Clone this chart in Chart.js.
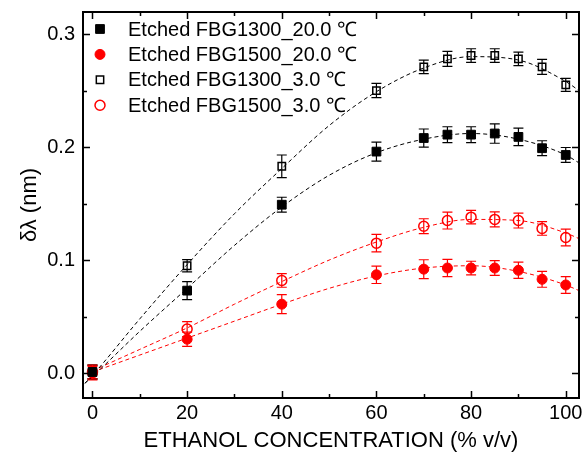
<!DOCTYPE html>
<html>
<head>
<meta charset="utf-8">
<script src="https://cdn.jsdelivr.net/npm/chart.js@4.4.0/dist/chart.umd.min.js"></script>
<style>
html, body { margin: 0; padding: 0; background: #fff; }
</style>
</head>
<body>
<canvas id="chart" width="582" height="465"></canvas>
<script>
// measured points
const concentration = [0, 20, 40, 60, 70, 75, 80, 85, 90, 95, 100];
const fbg1300_20 = [0.001, 0.073, 0.149, 0.196, 0.208, 0.211, 0.211, 0.212, 0.209, 0.199, 0.193];
const fbg1500_20 = [0.000, 0.030, 0.061, 0.087, 0.092, 0.093, 0.093, 0.093, 0.091, 0.083, 0.078];
const fbg1300_3 = [0.001, 0.095, 0.183, 0.250, 0.271, 0.278, 0.281, 0.281, 0.278, 0.271, 0.255];
const fbg1500_3 = [0.001, 0.039, 0.082, 0.115, 0.130, 0.135, 0.138, 0.136, 0.135, 0.128, 0.120];

// error bar half heights
const err1300_20 = [0.006, 0.008, 0.0066, 0.0084, 0.008, 0.007, 0.007, 0.0086, 0.0077, 0.0066, 0.0066];
const err1500_20 = [0.006, 0.0063, 0.0084, 0.0077, 0.0083, 0.0077, 0.006, 0.0066, 0.0072, 0.007, 0.0074];
const err1300_3 = [0.006, 0.0055, 0.010, 0.0063, 0.006, 0.0066, 0.006, 0.006, 0.006, 0.0066, 0.0058];
const err1500_3 = [0.006, 0.0066, 0.006, 0.0077, 0.0066, 0.0075, 0.006, 0.0066, 0.0066, 0.006, 0.0074];

// fitted curves
const fitXBlack = [-1.6, 0, 10, 20, 30, 40, 50, 60, 70, 80, 90, 100, 102.8];
const fit1300_20 = [-0.009, -0.003, 0.037, 0.075, 0.113, 0.147, 0.175, 0.195, 0.207, 0.212, 0.207, 0.193, 0.186];
const fit1300_3 = [-0.009, -0.002, 0.048, 0.096, 0.141, 0.181, 0.219, 0.249, 0.270, 0.280, 0.277, 0.258, 0.250];
const fitXRed = [0, 10, 20, 30, 40, 50, 60, 70, 80, 90, 100, 102.8];
const fit1500_20 = [0.001, 0.016, 0.031, 0.046, 0.061, 0.075, 0.086, 0.093, 0.095, 0.090, 0.078, 0.073];
const fit1500_3 = [0.002, 0.021, 0.040, 0.061, 0.081, 0.100, 0.116, 0.129, 0.136, 0.135, 0.124, 0.119];

const seriesNames = ["Etched FBG1300_20.0 \u2103", "Etched FBG1500_20.0 \u2103", "Etched FBG1300_3.0 \u2103", "Etched FBG1500_3.0 \u2103"];
const xTicks = [0, 20, 40, 60, 80, 100];
const xMinor = [10, 30, 50, 70, 90];
const yTicks = [0.0, 0.1, 0.2, 0.3];
const yMinor = [0.05, 0.15, 0.25];

const FONT = "'Liberation Sans', Arial, Helvetica, sans-serif";

function pts(xs, ys) {
    return xs.map((x, i) => ({ x: x, y: ys[i] }));
}

function markerSet(label, ys, errs, style, radius, color, filled) {
    return {
        label: label,
        data: pts(concentration, ys),
        errors: errs,
        showLine: false,
        pointStyle: style,
        pointRadius: radius,
        pointHoverRadius: radius,
        pointBackgroundColor: filled ? color : 'rgba(0,0,0,0)',
        pointBorderColor: color,
        pointBorderWidth: filled ? 1 : 1.5,
        borderColor: color,
        backgroundColor: color,
        order: 0
    };
}

function fitSet(xs, ys, color) {
    return {
        label: '',
        data: pts(xs, ys),
        showLine: true,
        borderColor: color,
        borderWidth: 1,
        borderDash: [4, 3],
        pointRadius: 0,
        cubicInterpolationMode: 'monotone',
        order: 1
    };
}

const markers = [
    markerSet(seriesNames[0], fbg1300_20, err1300_20, 'rect', 6.2, '#000000', true),
    markerSet(seriesNames[1], fbg1500_20, err1500_20, 'circle', 5, '#ff0000', true),
    markerSet(seriesNames[2], fbg1300_3, err1300_3, 'rect', 5.2, '#000000', false),
    markerSet(seriesNames[3], fbg1500_3, err1500_3, 'circle', 5, '#ff0000', false)
];

const fits = [
    fitSet(fitXBlack, fit1300_20, '#000000'),
    fitSet(fitXRed, fit1500_20, '#ff0000'),
    fitSet(fitXBlack, fit1300_3, '#000000'),
    fitSet(fitXRed, fit1500_3, '#ff0000')
];

// error bars under the markers
const errorBars = {
    id: 'errorBars',
    beforeDatasetsDraw(chart) {
        const ctx = chart.ctx;
        const xs = chart.scales.x, ys = chart.scales.y;
        ctx.save();
        chart.data.datasets.forEach(ds => {
            if (!ds.errors) return;
            ctx.strokeStyle = ds.borderColor;
            ctx.lineWidth = 1.2;
            ds.data.forEach((p, i) => {
                const px = xs.getPixelForValue(p.x);
                const top = ys.getPixelForValue(p.y + ds.errors[i]);
                const bot = ys.getPixelForValue(p.y - ds.errors[i]);
                ctx.beginPath();
                ctx.moveTo(px, top); ctx.lineTo(px, bot);
                ctx.moveTo(px - 5, top); ctx.lineTo(px + 5, top);
                ctx.moveTo(px - 5, bot); ctx.lineTo(px + 5, bot);
                ctx.stroke();
            });
        });
        ctx.restore();
    }
};

// box with inward ticks + legend
const frame = {
    id: 'frame',
    afterDraw(chart) {
        const ctx = chart.ctx;
        const a = chart.chartArea;
        const xs = chart.scales.x, ys = chart.scales.y;
        ctx.save();
        ctx.strokeStyle = '#000';
        ctx.lineWidth = 1.5;
        ctx.beginPath();
        xTicks.concat(xMinor).forEach(v => {
            const len = xTicks.includes(v) ? 7 : 4;
            const px = Math.round(xs.getPixelForValue(v)) + 0.5;
            ctx.moveTo(px, a.bottom); ctx.lineTo(px, a.bottom - len);
            ctx.moveTo(px, a.top); ctx.lineTo(px, a.top + len);
        });
        yTicks.concat(yMinor).forEach(v => {
            const len = yTicks.includes(v) ? 7 : 4;
            const py = Math.round(ys.getPixelForValue(v)) + 0.5;
            ctx.moveTo(a.left, py); ctx.lineTo(a.left + len, py);
            ctx.moveTo(a.right, py); ctx.lineTo(a.right - len, py);
        });
        ctx.stroke();
        ctx.lineWidth = 2;
        ctx.strokeRect(a.left, a.top, a.right - a.left, a.bottom - a.top);

        // legend
        ctx.font = '20px ' + FONT;
        ctx.textBaseline = 'middle';
        ctx.textAlign = 'left';
        markers.forEach((ds, i) => {
            const y = 29 + i * 25.4;
            ctx.fillStyle = ds.pointBackgroundColor;
            ctx.strokeStyle = ds.pointBorderColor;
            ctx.lineWidth = ds.pointBorderWidth;
            Chart.helpers.drawPoint(ctx, {
                pointStyle: ds.pointStyle,
                radius: ds.pointRadius,
                rotation: 0,
                borderWidth: ds.pointBorderWidth
            }, 100, y);
            ctx.fillStyle = '#000';
            ctx.fillText(ds.label, 128, y + 1);
        });
        ctx.restore();
    }
};

new Chart(document.getElementById('chart'), {
    type: 'scatter',
    data: { datasets: markers.concat(fits) },
    options: {
        responsive: false,
        animation: false,
        devicePixelRatio: 1,
        layout: { autoPadding: false, padding: { top: 12, right: 3, left: 0, bottom: 0 } },
        plugins: {
            legend: { display: false },
            tooltip: { enabled: false }
        },
        scales: {
            x: {
                type: 'linear',
                min: -2,
                max: 102.8,
                afterFit(scale) {
                    scale.height = 67;
                    scale.paddingLeft = 0;
                    scale.paddingRight = 0;
                },
                afterBuildTicks(scale) { scale.ticks = xTicks.map(v => ({ value: v })); },
                grid: { display: false, drawTicks: false },
                border: { display: false },
                ticks: {
                    padding: 3,
                    color: '#000',
                    font: { family: FONT, size: 20 },
                    maxRotation: 0,
                    callback: v => String(v)
                },
                title: {
                    display: true,
                    text: 'ETHANOL CONCENTRATION (% v/v)',
                    color: '#000',
                    font: { family: FONT, size: 22 },
                    padding: { top: 0, bottom: 11 }
                }
            },
            y: {
                type: 'linear',
                min: -0.022,
                max: 0.3195,
                afterFit(scale) {
                    scale.width = 83;
                    scale.paddingTop = 0;
                    scale.paddingBottom = 0;
                },
                afterBuildTicks(scale) { scale.ticks = yTicks.map(v => ({ value: v })); },
                grid: { display: false, drawTicks: false },
                border: { display: false },
                ticks: {
                    padding: 8,
                    color: '#000',
                    font: { family: FONT, size: 20 },
                    callback: v => Number(v).toFixed(1)
                },
                title: {
                    display: true,
                    text: '\u03b4\u03bb (nm)',
                    color: '#000',
                    font: { family: FONT, size: 22 },
                    padding: { top: 17, bottom: 0 }
                }
            }
        }
    },
    plugins: [errorBars, frame]
});
</script>
</body>
</html>
